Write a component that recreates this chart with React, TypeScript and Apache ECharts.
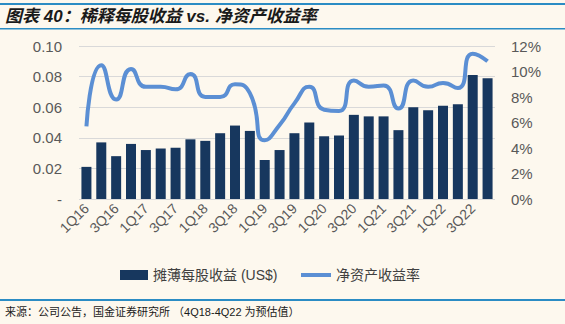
import React, { useEffect, useRef } from "react";
import * as echarts from "echarts";

const quarters = [
  "1Q16","2Q16","3Q16","4Q16","1Q17","2Q17","3Q17","4Q17",
  "1Q18","2Q18","3Q18","4Q18","1Q19","2Q19","3Q19","4Q19",
  "1Q20","2Q20","3Q20","4Q20","1Q21","2Q21","3Q21","4Q21",
  "1Q22","2Q22","3Q22","4Q22",
];
const eps = [
  0.021,0.037,0.028,0.036,0.032,0.033,0.0335,0.039,
  0.038,0.043,0.048,0.0445,0.0255,0.032,0.043,0.050,
  0.041,0.0415,0.055,0.054,0.054,0.045,0.060,0.058,
  0.061,0.062,0.081,0.079,
];
const roe = [
  5.7,10.5,7.8,10.2,8.8,8.8,8.6,9.8,
  8.0,8.0,9.0,8.3,4.6,5.8,7.5,8.8,
  7.0,6.9,9.3,8.8,8.9,7.1,9.3,8.8,
  9.1,8.7,11.4,10.8,
];
const leftTicks = ["-", "0.02", "0.04", "0.06", "0.08", "0.10"];

const TITLE = "图表 40：稀释每股收益 vs. 净资产收益率";
const SOURCE = "来源：公司公告，国金证券研究所 （4Q18-4Q22 为预估值）";
const BAR_NAME = "摊薄每股收益 (US$)";
const LINE_NAME = "净资产收益率";

export default function App() {
  const ref = useRef<HTMLDivElement>(null);
  useEffect(() => {
    if (!ref.current) return;
    const chart = echarts.init(ref.current, null, { renderer: "svg" });
    const blue = "#2B8CC4";
    const legendText = {
      fontSize: 14,
      color: "#404040",
      fontFamily: "Liberation Sans, Noto Sans CJK SC, sans-serif",
    };
    chart.setOption({
      animation: false,
      backgroundColor: "#FDF8EE",
      textStyle: { fontFamily: "Liberation Sans, Arial, sans-serif" },
      grid: { left: 79, right: 70, top: 46, bottom: 125, containLabel: false },
      legend: [
        {
          left: 115,
          top: 263,
          itemWidth: 28,
          itemHeight: 10,
          itemGap: 4,
          textStyle: legendText,
          data: [{ name: BAR_NAME, icon: "rect" }],
        },
        {
          left: 296,
          top: 263,
          itemWidth: 30,
          itemHeight: 4,
          textStyle: legendText,
          data: [{ name: LINE_NAME, icon: "rect" }],
        },
      ],
      xAxis: {
        type: "category",
        data: quarters,
        axisTick: { show: false },
        axisLine: { show: false },
        axisLabel: {
          interval: 1,
          rotate: 45,
          fontSize: 14,
          color: "#595959",
          margin: 7,
        },
      },
      yAxis: [
        {
          type: "value",
          min: 0,
          max: 0.1,
          interval: 0.02,
          axisLine: { show: false },
          axisTick: { show: false },
          splitLine: { lineStyle: { color: "#D9D9D9", width: 1 } },
          axisLabel: {
            fontSize: 15,
            color: "#595959",
            margin: 17,
            formatter: (v: number) => leftTicks[Math.round(v / 0.02)] ?? "",
          },
        },
        {
          type: "value",
          min: 0,
          max: 12,
          interval: 2,
          axisLine: { show: false },
          axisTick: { show: false },
          splitLine: { show: false },
          axisLabel: {
            fontSize: 15,
            color: "#595959",
            margin: 16,
            formatter: (v: number) => `${v}%`,
          },
        },
      ],
      series: [
        {
          name: BAR_NAME,
          type: "bar",
          data: eps,
          barWidth: 10,
          itemStyle: { color: "#17375E" },
          yAxisIndex: 0,
        },
        {
          name: LINE_NAME,
          type: "line",
          data: roe,
          yAxisIndex: 1,
          smooth: 0.6,
          symbol: "none",
          lineStyle: { color: "#5B8FD4", width: 4 },
          itemStyle: { color: "#5B8FD4" },
        },
      ],
      graphic: [
        { type: "rect", shape: { x: 0, y: 3, width: 565, height: 2 }, style: { fill: blue } },
        { type: "rect", shape: { x: 0, y: 28, width: 565, height: 1.5 }, style: { fill: blue } },
        {
          type: "text",
          x: 5,
          y: 16,
          style: {
            text: TITLE,
            fill: "#1a1a1a",
            fontSize: 17,
            fontWeight: "bold",
            fontStyle: "italic",
            fontFamily: "Liberation Sans, Noto Sans CJK SC, sans-serif",
            verticalAlign: "middle",
          },
        },
        { type: "rect", shape: { x: 0, y: 299, width: 565, height: 2 }, style: { fill: blue } },
        {
          type: "text",
          x: 5,
          y: 312,
          style: {
            text: SOURCE,
            fill: "#1a1a1a",
            fontSize: 11,
            fontFamily: "Liberation Sans, Noto Sans CJK SC, sans-serif",
            verticalAlign: "middle",
          },
        },
      ],
    });
    return () => chart.dispose();
  }, []);
  return <div ref={ref} style={{ width: 565, height: 324, position: "absolute", left: 0, top: 0 }} />;
}
